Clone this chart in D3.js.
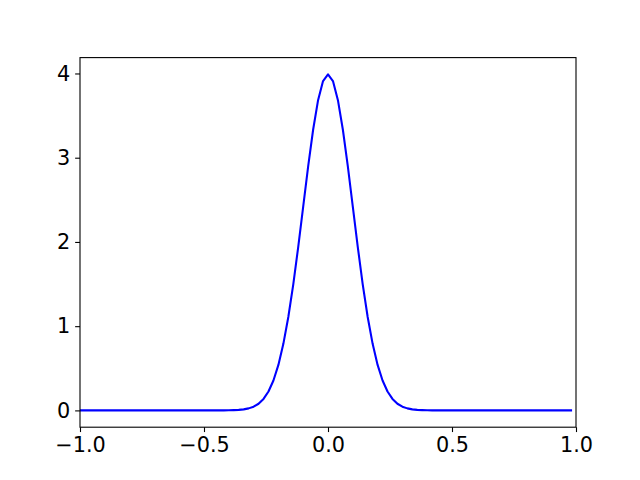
<!DOCTYPE html>
<html>
<head>
<meta charset="utf-8">
<script src="https://cdn.jsdelivr.net/npm/d3@7"></script>
<style>
html,body{margin:0;padding:0;background:#fff;}
svg{display:block;}
text{font-family:"DejaVu Sans",sans-serif;}
</style>
</head>
<body>
<svg id="chart" width="640" height="480"></svg>
<script>
// x sample positions (step 0.02, -1 .. 0.98)
const xValues = [
-1.00,-0.98,-0.96,-0.94,-0.92,-0.90,-0.88,-0.86,-0.84,-0.82,
-0.80,-0.78,-0.76,-0.74,-0.72,-0.70,-0.68,-0.66,-0.64,-0.62,
-0.60,-0.58,-0.56,-0.54,-0.52,-0.50,-0.48,-0.46,-0.44,-0.42,
-0.40,-0.38,-0.36,-0.34,-0.32,-0.30,-0.28,-0.26,-0.24,-0.22,
-0.20,-0.18,-0.16,-0.14,-0.12,-0.10,-0.08,-0.06,-0.04,-0.02,
 0.00, 0.02, 0.04, 0.06, 0.08, 0.10, 0.12, 0.14, 0.16, 0.18,
 0.20, 0.22, 0.24, 0.26, 0.28, 0.30, 0.32, 0.34, 0.36, 0.38,
 0.40, 0.42, 0.44, 0.46, 0.48, 0.50, 0.52, 0.54, 0.56, 0.58,
 0.60, 0.62, 0.64, 0.66, 0.68, 0.70, 0.72, 0.74, 0.76, 0.78,
 0.80, 0.82, 0.84, 0.86, 0.88, 0.90, 0.92, 0.94, 0.96, 0.98
];
// curve values
const yValues = [
0,0,0,0,0,0,0,0,0,0,
0,0,0,0,0,0,0,0,0,0,
0,0,0,0,0,0,0,0,0,0,
0.001,0.003,0.006,0.012,0.024,0.044,0.079,0.136,0.224,0.355,
0.540,0.790,1.109,1.497,1.942,2.420,2.897,3.332,3.683,3.910,
3.989,3.910,3.683,3.332,2.897,2.420,1.942,1.497,1.109,0.790,
0.540,0.355,0.224,0.136,0.079,0.044,0.024,0.012,0.006,0.003,
0.001,0,0,0,0,0,0,0,0,0,
0,0,0,0,0,0,0,0,0,0,
0,0,0,0,0,0,0,0,0,0
];
const xTicks = [-1.0,-0.5,0.0,0.5,1.0];
const yTicks = [0,1,2,3,4];

const svg = d3.select("#chart");
const mLeft = 80, mRight = 576, mTop = 57.6, mBottom = 427.2;
const fs = 20.8;

const yMax = d3.max(yValues), yMin = 0;
const pad = (yMax - yMin) * 0.05;
const x = d3.scaleLinear().domain([-1, 1]).range([mLeft, mRight]);
const y = d3.scaleLinear().domain([yMin - pad, yMax + pad]).range([mBottom, mTop]);

const fmtX = v => d3.format(".1f")(v).replace("-", "\u2212");

const gx = svg.append("g").attr("transform", `translate(0,${mBottom})`)
  .call(d3.axisBottom(x).tickValues(xTicks).tickFormat(fmtX).tickSize(4.86).tickPadding(4.86));
const gy = svg.append("g").attr("transform", `translate(${mLeft},0)`)
  .call(d3.axisLeft(y).tickValues(yTicks).tickFormat(d3.format("d")).tickSize(4.86).tickPadding(4.86));
[gx, gy].forEach(g => {
  g.attr("font-size", fs).attr("font-family", '"DejaVu Sans", sans-serif');
  g.select(".domain").remove();
  g.selectAll(".tick line").attr("stroke", "#000").attr("stroke-width", 1.1);
  g.selectAll(".tick text").attr("fill", "#000").attr("font-size", fs);
});

svg.append("defs").append("clipPath").attr("id", "clip")
  .append("rect").attr("x", mLeft).attr("y", mTop).attr("width", mRight - mLeft).attr("height", mBottom - mTop);

const pts = xValues.map((v, i) => [v, yValues[i]]);
svg.append("path")
  .datum(pts)
  .attr("clip-path", "url(#clip)")
  .attr("fill", "none")
  .attr("stroke", "#0000ff")
  .attr("stroke-width", 2.08)
  .attr("stroke-linejoin", "round")
  .attr("stroke-linecap", "square")
  .attr("d", d3.line().x(d => x(d[0])).y(d => y(d[1])));

svg.append("rect")
  .attr("x", mLeft).attr("y", mTop).attr("width", mRight - mLeft).attr("height", mBottom - mTop)
  .attr("fill", "none").attr("stroke", "#000").attr("stroke-width", 1.1);
</script>
</body>
</html>
